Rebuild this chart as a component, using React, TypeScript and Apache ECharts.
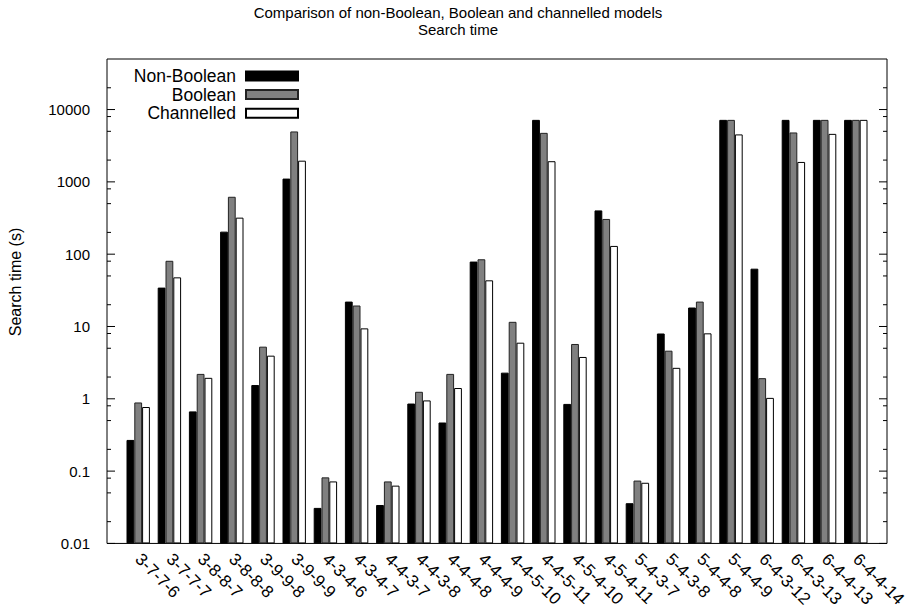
import React, { useEffect, useRef } from "react";
import * as echarts from "echarts";

const categories = [
  "3-7-7-6", "3-7-7-7", "3-8-8-7", "3-8-8-8", "3-9-9-8", "3-9-9-9",
  "4-3-4-6", "4-3-4-7", "4-4-3-7", "4-4-3-8", "4-4-4-8", "4-4-4-9",
  "4-4-5-10", "4-4-5-11", "4-5-4-10", "4-5-4-11", "5-4-3-7", "5-4-3-8",
  "5-4-4-8", "5-4-4-9", "6-4-3-12", "6-4-3-13", "6-4-4-13", "6-4-4-14",
];
const nonBoolean = [0.27, 34.5, 0.67, 205, 1.55, 1110, 0.031, 22.1, 0.034, 0.86, 0.47, 79, 2.3, 7200, 0.85, 403, 0.036, 8.0, 18.3, 7200, 63, 7200, 7200, 7200];
const booleanModel = [0.89, 81, 2.21, 622, 5.26, 4980, 0.082, 19.5, 0.072, 1.25, 2.21, 85, 11.6, 4760, 5.73, 307, 0.074, 4.63, 22.1, 7200, 1.93, 4820, 7200, 7200];
const channelled = [0.77, 47.8, 1.95, 320, 3.95, 1963, 0.072, 9.42, 0.063, 0.95, 1.41, 43.5, 5.97, 1930, 3.79, 130, 0.069, 2.68, 8.04, 4530, 1.03, 1885, 4610, 7200];

const seriesNames = ["Non-Boolean", "Boolean", "Channelled"];
const yMajorTicks = [0.01, 0.1, 1, 10, 100, 1000, 10000];
const yTickLabels = ["0.01", "0.1", "1", "10", "100", "1000", "10000"];
const yMinorTicks = [0.02, 0.05, 0.08, 0.2, 0.5, 0.8, 2, 5, 8, 20, 50, 80, 200, 500, 800, 2000, 5000, 8000, 20000];
const yMin = 0.01;
const yMax = 50000;
const xMin = -1;
const xMax = 24;

const FONT = "'Liberation Sans', Arial, Helvetica, sans-serif";

function fmtY(v: number): string {
  let best = 0;
  let bd = Infinity;
  yMajorTicks.forEach((t, i) => {
    const d = Math.abs(Math.log10(v) - Math.log10(t));
    if (d < bd) { bd = d; best = i; }
  });
  return bd < 0.01 ? yTickLabels[best] : "";
}

export default function App() {
  const ref = useRef<HTMLDivElement>(null);
  useEffect(() => {
    if (!ref.current) return;
    const chart = echarts.init(ref.current, undefined, { renderer: "svg" });
    const mk = (vals: number[]) => vals.map((v, i) => [i, v]);
    const styles = [
      { color: "#000000", borderColor: "#000000", borderWidth: 1 },
      { color: "#808080", borderColor: "#222222", borderWidth: 1 },
      { color: "#ffffff", borderColor: "#000000", borderWidth: 1 },
    ];
    const datasets = [nonBoolean, booleanModel, channelled];
    const tickData = [
      ...yMajorTicks.map((v) => [xMin, v, 1]),
      ...yMinorTicks.map((v) => [xMin, v, 0]),
    ];
    chart.setOption({
      animation: false,
      backgroundColor: "#ffffff",
      title: {
        text: "Comparison of non-Boolean, Boolean and channelled models\nSearch time",
        left: "center",
        top: 4,
        padding: 0,
        textStyle: { fontSize: 15, fontWeight: "normal", fontFamily: FONT, color: "#000", lineHeight: 17, align: "center" },
      },
      legend: {
        orient: "vertical",
        right: 617,
        top: 67,
        padding: 0,
        itemGap: 0.6,
        itemWidth: 52,
        itemHeight: 9,
        align: "right",
        icon: "rect",
        data: seriesNames,
        textStyle: { fontSize: 17.5, fontFamily: FONT, color: "#000", lineHeight: 17, padding: [0, 5, 0, 0] },
      },
      grid: {
        left: 107,
        right: 29,
        top: 59,
        bottom: 64,
        show: true,
        borderColor: "#000",
        borderWidth: 1,
        containLabel: false,
      },
      xAxis: {
        type: "value",
        min: xMin,
        max: xMax,
        interval: 1,
        axisLine: { show: false, onZero: false },
        axisTick: { show: false },
        splitLine: { show: false },
        axisLabel: {
          rotate: -45,
          margin: 13,
          fontSize: 17,
          fontFamily: FONT,
          color: "#000",
          showMinLabel: false,
          showMaxLabel: false,
          formatter: (v: number) => (Number.isInteger(v) && v >= 0 && v < categories.length ? categories[v] : ""),
        },
      },
      yAxis: {
        type: "log",
        logBase: 10,
        position: "left",
        min: yMin,
        max: yMax,
        startValue: yMin,
        axisLine: { show: false, onZero: false },
        splitLine: { show: false },
        minorTick: { show: false },
        axisTick: { show: false },
        axisLabel: {
          customValues: yMajorTicks,
          formatter: (v: number) => fmtY(v),
          fontSize: 15,
          fontFamily: FONT,
          color: "#000",
          margin: 17,
        },
      },
      series: [
        ...seriesNames.map((name, k) => ({
          name,
          type: "bar",
          barWidth: 7.8,
          barGap: "0%",
          data: mk(datasets[k]),
          itemStyle: styles[k],
        })),
        {
          type: "custom",
          name: "ticks",
          silent: true,
          clip: false,
          z: 5,
          encode: { x: 0, y: 1 },
          data: tickData,
          renderItem: (_params: any, api: any) => {
            const v = api.value(1);
            const major = api.value(2) === 1;
            const len = major ? 8 : 4;
            const pL = api.coord([xMin, v]);
            const pR = api.coord([xMax, v]);
            return {
              type: "group",
              children: [
                { type: "line", shape: { x1: pL[0], y1: pL[1], x2: pL[0] + len, y2: pL[1] }, style: { stroke: "#000", lineWidth: 1 } },
                { type: "line", shape: { x1: pR[0] - len, y1: pR[1], x2: pR[0], y2: pR[1] }, style: { stroke: "#000", lineWidth: 1 } },
              ],
            };
          },
        },
      ],
      graphic: [
        {
          type: "text",
          x: 15,
          y: 282,
          rotation: Math.PI / 2,
          style: {
            text: "Search time (s)",
            fontSize: 16,
            fontFamily: FONT,
            fill: "#000",
            align: "center",
            verticalAlign: "middle",
          },
        },
      ],
    });
    return () => chart.dispose();
  }, []);
  return (
    <div
      ref={ref}
      style={{ position: "fixed", left: 0, top: 0, width: 916, height: 610, background: "#fff" }}
    />
  );
}
